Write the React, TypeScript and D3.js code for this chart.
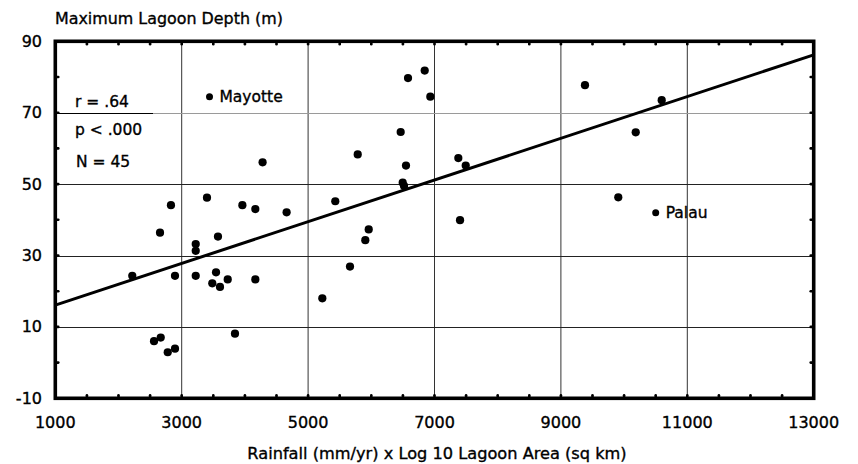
import React from 'react';
import * as d3 from 'd3';

// Rainfall (mm/yr) x log10 lagoon area (sq km), one value per atoll/island
const rainfallArea = [
  3440, 4280, 2830, 3400, 3960, 4165, 4660, 2657, 3222, 3222,
  3574, 2218, 2894, 3222, 3543, 3484, 3606, 3728, 4165, 2562,
  2668, 2779, 2894, 3843, 6581, 6845, 6934, 6465, 5785, 6549,
  7377, 7494, 6497, 6518, 5430, 5959, 5905, 5663, 5225, 7404,
  9381, 10595, 10184, 9908, 10500,
];

// Maximum lagoon depth (m)
const lagoonDepth = [
  74.5, 56.1, 44.1, 46.2, 44.1, 43.0, 42.1, 36.4, 33.2, 31.3,
  35.3, 24.3, 24.3, 24.3, 25.3, 22.2, 21.2, 23.3, 23.3, 6.0,
  7.0, 2.9, 3.9, 8.1, 79.7, 81.8, 74.5, 64.6, 58.3, 55.2,
  57.3, 55.2, 50.4, 49.5, 45.2, 37.3, 34.3, 26.9, 18.0, 39.9,
  77.7, 73.5, 64.5, 46.3, 42.0,
];

// Names for labelled points (empty = unlabelled)
const islandNames = [
  'Mayotte', '', '', '', '', '', '', '', '', '',
  '', '', '', '', '', '', '', '', '', '',
  '', '', '', '', '', '', '', '', '', '',
  '', '', '', '', '', '', '', '', '', '',
  '', '', '', '', 'Palau',
];

// Least-squares line: depth = intercept + slope * x
const fitIntercept = 10.26;
const fitSlope = 0.005842;

const statLines = ['r = .64', 'p < .000', 'N = 45'];

const xTicks = [1000, 3000, 5000, 7000, 9000, 11000, 13000];
const yTicks = [-10, 10, 30, 50, 70, 90];
const xMinorStep = 500;
const yMinorStep = 10;

const yAxisTitle = 'Maximum Lagoon Depth (m)';
const xAxisTitle = 'Rainfall (mm/yr) x Log 10 Lagoon Area (sq km)';

const W = 858;
const H = 464;
const FONT = '"DejaVu Sans", Verdana, sans-serif';

// slightly heavier text strokes
const textStyle = { stroke: '#000', strokeWidth: 0.35 } as const;

export default function App() {
  const x = d3.scaleLinear().domain([1000, 13000]).range([55.3, 813.7]);
  const y = d3.scaleLinear().domain([-10, 90]).range([398.3, 41.3]);
  const [x0, x1] = x.range();
  const [y0, y1] = y.range();

  const xMinor = d3.range(1000 + xMinorStep, 13000, xMinorStep);
  const yMinor = d3.range(-10 + yMinorStep, 90, yMinorStep);
  const xGrid = xTicks.slice(1, -1);
  const yGrid = yTicks.slice(1, -1);

  const fit = d3
    .line<number>()
    .x((d) => x(d))
    .y((d) => y(fitIntercept + fitSlope * d));

  const points = rainfallArea.map((v, i) => ({
    rx: v,
    depth: lagoonDepth[i],
    name: islandNames[i],
  }));

  return (
    <svg
      width={W}
      height={H}
      style={{ position: 'absolute', left: 0, top: 0, background: '#fff' }}
      fontFamily={FONT}
    >
      <rect width={W} height={H} fill="#fff" />

      {/* grid */}
      {xGrid.map((v) => (
        <line key={'gx' + v} x1={x(v)} x2={x(v)} y1={y1} y2={y0} stroke="#333" strokeWidth={1} />
      ))}
      {yGrid.map((v) => (
        <line
          key={'gy' + v}
          x1={x0}
          x2={x1}
          y1={Math.round(y(v)) + 0.5}
          y2={Math.round(y(v)) + 0.5}
          stroke={v === 70 ? '#9a9a9a' : '#222'}
          strokeWidth={1}
        />
      ))}

      {/* minor tick dots on all four sides */}
      {xMinor.map((v) => (
        <g key={'mx' + v}>
          <line x1={x(v)} x2={x(v)} y1={y0} y2={y0 - 3} stroke="#000" strokeWidth={2.6} strokeLinecap="round" />
          <line x1={x(v)} x2={x(v)} y1={y1} y2={y1 + 3} stroke="#000" strokeWidth={2.6} strokeLinecap="round" />
        </g>
      ))}
      {yMinor.map((v) => (
        <g key={'my' + v}>
          <line x1={x0} x2={x0 + 3} y1={y(v)} y2={y(v)} stroke="#000" strokeWidth={2.6} strokeLinecap="round" />
          <line x1={x1} x2={x1 - 3} y1={y(v)} y2={y(v)} stroke="#000" strokeWidth={2.6} strokeLinecap="round" />
        </g>
      ))}

      {/* regression line */}
      <path d={fit([1000, 13000]) || ''} fill="none" stroke="#000" strokeWidth={3} />

      {/* data points */}
      {points.map((p, i) => (
        <circle key={'p' + i} cx={x(p.rx)} cy={y(p.depth)} r={p.name ? 3.5 : 4.1} fill="#000" />
      ))}
      {points
        .filter((p) => p.name)
        .map((p) => (
          <text key={p.name} x={x(p.rx) + 10} y={y(p.depth) + 5.5} fontSize={15.5} fill="#000" style={textStyle}>
            {p.name}
          </text>
        ))}

      {/* statistics box */}
      <g fontSize={15.5} fill="#000" style={textStyle}>
        <text x={75} y={107}>{statLines[0]}</text>
        <text x={75} y={135}>{statLines[1]}</text>
        <text x={76} y={167}>{statLines[2]}</text>
      </g>
      <line x1={57} x2={153} y1={113.5} y2={113.5} stroke="#000" strokeWidth={1.2} />

      {/* frame */}
      <rect x={x0} y={y1} width={x1 - x0} height={y0 - y1} fill="none" stroke="#000" strokeWidth={3.6} />

      {/* tick labels */}
      <g fontSize={16} fill="#000" style={textStyle}>
        {xTicks.map((v) => (
          <text key={'tx' + v} x={x(v)} y={428} textAnchor="middle">
            {v}
          </text>
        ))}
        {yTicks.map((v) => (
          <text key={'ty' + v} x={42} y={y(v) + 5.5} textAnchor="end">
            {v}
          </text>
        ))}
      </g>

      {/* axis titles */}
      <g fontSize={16.2} fill="#000" style={textStyle}>
        <text x={55} y={24} fontSize={15.9}>{yAxisTitle}</text>
        <text x={437} y={459} textAnchor="middle">{xAxisTitle}</text>
      </g>
    </svg>
  );
}
